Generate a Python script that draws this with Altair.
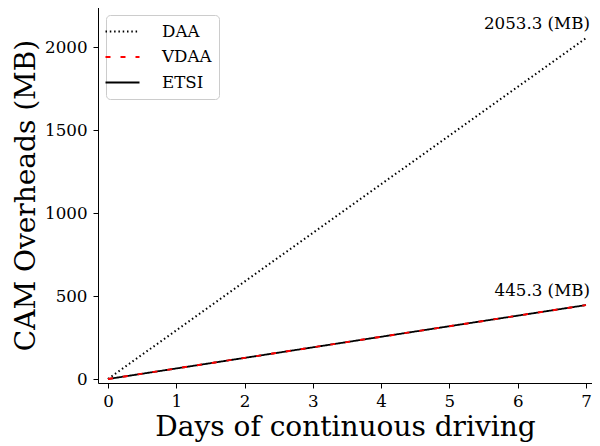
import altair as alt
import pandas as pd

days = [0, 1, 2, 3, 4, 5, 6, 7]
daa = [0, 293.3, 586.7, 880.0, 1173.3, 1466.6, 1760.0, 2053.3]
vdaa = [0, 63.6, 127.2, 190.8, 254.5, 318.1, 381.7, 445.3]
etsi = [0, 63.6, 127.2, 190.8, 254.5, 318.1, 381.7, 445.3]
series_names = ["DAA", "VDAA", "ETSI"]
annot_x = [7, 7]
annot_y = [2053.3, 445.3]
annot_text = ["2053.3 (MB)", "445.3 (MB)"]

rows = []
for name, vals in zip(series_names, [daa, vdaa, etsi]):
    for d, v in zip(days, vals):
        rows.append({"day": d, "mb": v, "series": name})
df = pd.DataFrame(rows)
ann = pd.DataFrame({"day": annot_x, "mb": annot_y, "label": annot_text})

FONT = "DejaVu Serif"
xscale = alt.Scale(domain=[-0.146, 7.088], nice=False, zero=False)
yscale = alt.Scale(domain=[-24, 2241], nice=False, zero=False)

leg = alt.Legend(title=None, orient="none", legendX=8, legendY=8,
                 symbolType="M-2,0H2", symbolSize=289,
                 labelFont=FONT, labelFontSize=16.7, labelColor="black",
                 fillColor="white", strokeColor="#cccccc", cornerRadius=4,
                 padding=7, rowPadding=6.5, labelOffset=30)
color = alt.Color("series:N", scale=alt.Scale(domain=series_names, range=["black", "red", "black"]),
                  legend=leg)
dash = alt.StrokeDash("series:N", scale=alt.Scale(domain=series_names, range=[[1.5, 2.8], [5, 10], [1, 0]]),
                      legend=leg)
width = alt.StrokeWidth("series:N", scale=alt.Scale(domain=series_names, range=[2.0, 1.8, 3.0]),
                        legend=leg)

x = alt.X("day:Q", scale=xscale,
          axis=alt.Axis(values=[0, 1, 2, 3, 4, 5, 6, 7], format="d", title="Days of continuous driving",
                        grid=False, labelFont=FONT, labelFontSize=16.7, labelColor="black",
                        tickColor="black", domainColor="black", tickSize=5,
                        titleFont=FONT, titleFontSize=28, titleFontWeight="normal", titleColor="black",
                        titlePadding=4, labelPadding=5))
y = alt.Y("mb:Q", scale=yscale,
          axis=alt.Axis(values=[0, 500, 1000, 1500, 2000], format="d", title="CAM Overheads (MB)",
                        grid=False, labelFont=FONT, labelFontSize=16.7, labelColor="black",
                        tickColor="black", domainColor="black", tickSize=5,
                        titleFont=FONT, titleFontSize=28, titleFontWeight="normal", titleColor="black",
                        titlePadding=4, labelPadding=6))

base = alt.Chart(df).mark_line().encode(x=x, y=y, color=color, strokeDash=dash, strokeWidth=width,
                                         order=alt.Order("day:Q"))
etsi_layer = base.transform_filter(alt.datum.series == "ETSI")
others = base.transform_filter(alt.datum.series != "ETSI")

text = alt.Chart(ann).mark_text(align="right", baseline="alphabetic", dx=4, dy=-9.5, font=FONT,
                                fontSize=16.7, color="black").encode(
    x=alt.X("day:Q", scale=xscale), y=alt.Y("mb:Q", scale=yscale), text="label:N")

chart = alt.layer(etsi_layer, others, text).properties(
    width=494, height=376,
    autosize=alt.AutoSizeParams(type="none"),
    padding={"left": 90, "top": -1, "right": 0, "bottom": 63},
).configure_view(stroke="black", strokeWidth=1.2).configure(background="white")

chart.save("out.html", embed_options={"renderer": "svg", "actions": False})
